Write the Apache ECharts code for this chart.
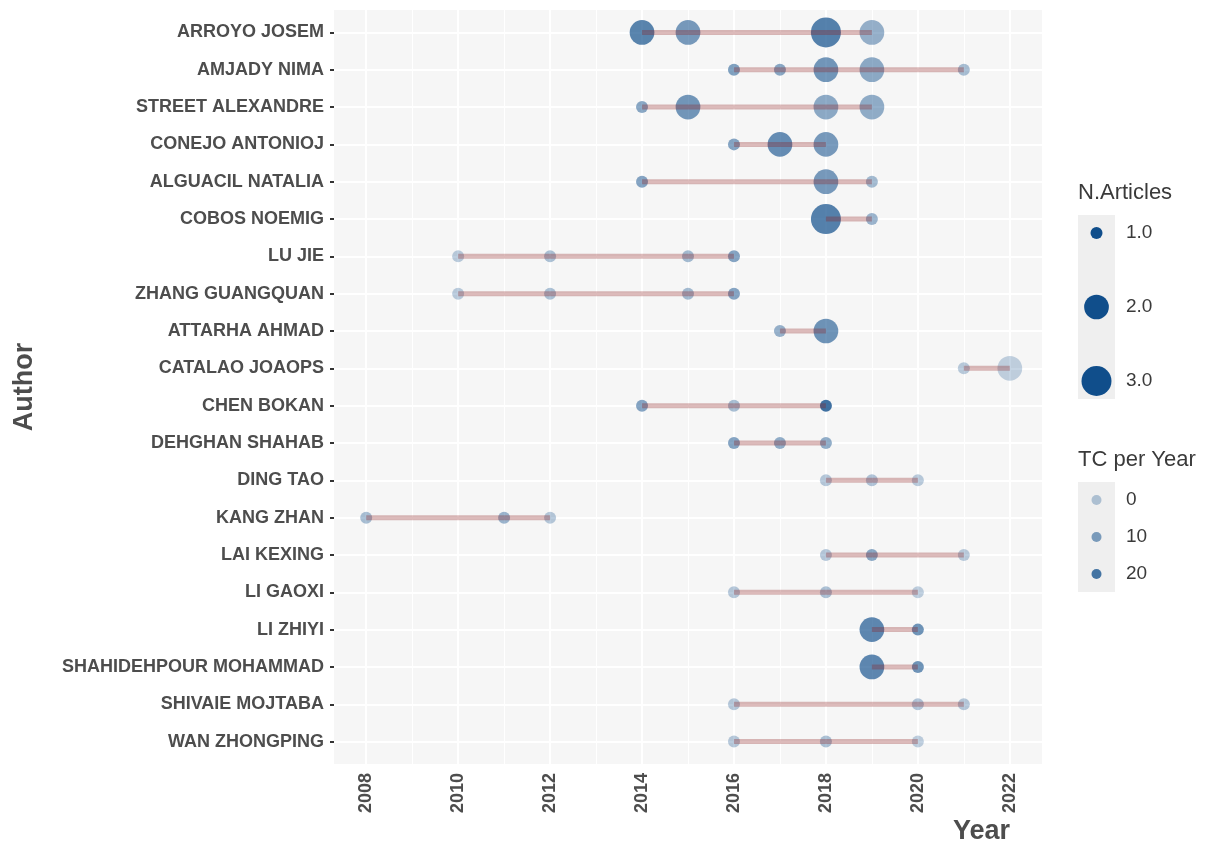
<!DOCTYPE html>
<html>
<head>
<meta charset="utf-8">
<script src="https://cdn.jsdelivr.net/npm/echarts@6/dist/echarts.min.js"></script>
<style>
html,body{margin:0;padding:0;background:#fff;}
#chart{width:1212px;height:848px;}
</style>
</head>
<body>
<div id="chart"></div>
<script>
// ---- data ----
const authors = ["ARROYO JOSEM","AMJADY NIMA","STREET ALEXANDRE","CONEJO ANTONIOJ","ALGUACIL NATALIA","COBOS NOEMIG","LU JIE","ZHANG GUANGQUAN","ATTARHA AHMAD","CATALAO JOAOPS","CHEN BOKAN","DEHGHAN SHAHAB","DING TAO","KANG ZHAN","LAI KEXING","LI GAOXI","LI ZHIYI","SHAHIDEHPOUR MOHAMMAD","SHIVAIE MOJTABA","WAN ZHONGPING"];
const years = [
  [2014,2015,2018,2019],
  [2016,2017,2018,2019,2021],
  [2014,2015,2018,2019],
  [2016,2017,2018],
  [2014,2018,2019],
  [2018,2019],
  [2010,2012,2015,2016],
  [2010,2012,2015,2016],
  [2017,2018],
  [2021,2022],
  [2014,2016,2018],
  [2016,2017,2018],
  [2018,2019,2020],
  [2008,2011,2012],
  [2018,2019,2021],
  [2016,2018,2020],
  [2019,2020],
  [2019,2020],
  [2016,2020,2021],
  [2016,2018,2020]
];
const articles = [
  [2,2,3,2],
  [1,1,2,2,1],
  [1,2,2,2],
  [1,2,2],
  [1,2,1],
  [3,1],
  [1,1,1,1],
  [1,1,1,1],
  [1,2],
  [1,2],
  [1,1,1],
  [1,1,1],
  [1,1,1],
  [1,1,1],
  [1,1,1],
  [1,1,1],
  [2,1],
  [2,1],
  [1,1,1],
  [1,1,1]
];
const tcPerYear = [
  [24,17,25,10],
  [15,13,18,12,6],
  [13,18,12,11],
  [14,21,17],
  [14,17,7],
  [25,9],
  [2,5,7,14],
  [2,5,7,14],
  [10,19],
  [2,0],
  [14,6,30],
  [14,11,11],
  [3,4,2],
  [6,9,3],
  [3,13,2],
  [3,5,1],
  [23,19],
  [23,19],
  [3,4,3],
  [3,5,1]
];
const xTickLabels = [2008,2010,2012,2014,2016,2018,2020,2022];
const xMinorTicks = [2009,2011,2013,2015,2017,2019,2021];
const sizeLegendValues = [1,2,3];
const tcLegendValues = [0,10,20];

// ---- scales / styles ----
const FONT = '"Liberation Sans", Arial, sans-serif';
const BLUE = [16,78,139];
const allTc = tcPerYear.flat();
const tcMin = Math.min(...allTc), tcMax = Math.max(...allTc);
const allArt = articles.flat();
const artMin = Math.min(...allArt), artMax = Math.max(...allArt);
function alphaOf(tc){ return 0.3 + 0.7*(tc - tcMin)/(tcMax - tcMin); }
function colorOf(tc){ return 'rgba(' + BLUE.join(',') + ',' + alphaOf(tc).toFixed(3) + ')'; }
function sizeOf(n){ return 12 + 18*Math.sqrt((n - artMin)/(artMax - artMin)); }

const points = [];
authors.forEach((a,i)=>{
  years[i].forEach((y,j)=>{ points.push([y, i, articles[i][j], tcPerYear[i][j]]); });
});
const segs = authors.map((a,i)=>[Math.min(...years[i]), Math.max(...years[i]), i]);

const gridLines = [];
xTickLabels.forEach(v=>gridLines.push({xAxis:v, lineStyle:{color:'#ffffff', width:2, type:'solid'}}));
xMinorTicks.forEach(v=>gridLines.push({xAxis:v, lineStyle:{color:'#ffffff', width:1, type:'solid'}}));
authors.forEach((a,i)=>gridLines.push({yAxis:i, lineStyle:{color:'#ffffff', width:2, type:'solid'}}));

// ---- legend graphics ----
const LX = 1078, KEYW = 37, KCX = LX + 18.5, LABX = 1126;
const legendEls = [];
legendEls.push({type:'text', left:LX, top:182, style:{text:'N.Articles', font:'22px '+FONT, fill:'#3a3a3a'}});
legendEls.push({type:'rect', shape:{x:LX, y:215, width:KEYW, height:184}, style:{fill:'#efefef'}});
const sizeY = [233,307,381];
sizeLegendValues.forEach((v,k)=>{
  legendEls.push({type:'circle', shape:{cx:KCX, cy:sizeY[k], r:sizeOf(v)/2}, style:{fill:'rgb('+BLUE.join(',')+')'}});
  legendEls.push({type:'text', x:LABX, y:sizeY[k], style:{text:v.toFixed(1), font:'19px '+FONT, fill:'#3a3a3a', textVerticalAlign:'middle'}});
});
legendEls.push({type:'text', left:LX, top:449, style:{text:'TC per Year', font:'22px '+FONT, fill:'#3a3a3a'}});
legendEls.push({type:'rect', shape:{x:LX, y:482, width:KEYW, height:110}, style:{fill:'#efefef'}});
const tcY = [500,537,574];
tcLegendValues.forEach((v,k)=>{
  legendEls.push({type:'circle', shape:{cx:KCX, cy:tcY[k], r:5}, style:{fill:colorOf(v)}});
  legendEls.push({type:'text', x:LABX, y:tcY[k], style:{text:String(v), font:'19px '+FONT, fill:'#3a3a3a', textVerticalAlign:'middle'}});
});
// x axis title
legendEls.push({type:'text', x:1010, y:818, style:{text:'Year', font:'bold 27px '+FONT, fill:'#4d4d4d', textAlign:'right', textVerticalAlign:'top'}});

const chart = echarts.init(document.getElementById('chart'), null, {renderer:'canvas'});
chart.setOption({
  animation:false,
  backgroundColor:'#ffffff',
  textStyle:{fontFamily:FONT},
  grid:{left:334, right:170, top:10, bottom:84, show:true, backgroundColor:'#f6f6f6', borderWidth:0, containLabel:false},
  xAxis:{
    type:'value', min:2007.3, max:2022.7,
    axisLine:{show:false},
    axisTick:{show:true, length:4, lineStyle:{color:'#333333', width:2}, customValues:xTickLabels},
    axisLabel:{rotate:90, margin:9, fontSize:18, fontWeight:'bold', color:'#4d4d4d', fontFamily:FONT, customValues:xTickLabels, formatter:v=>String(v)},
    splitLine:{show:false}
  },
  yAxis:{
    type:'value', min:-0.6, max:19.6, inverse:true,
    name:'Author', nameLocation:'middle', nameRotate:90, nameGap:296, nameMoveOverlap:false,
    nameTextStyle:{fontSize:27, fontWeight:'bold', color:'#4d4d4d', fontFamily:FONT},
    axisLine:{show:false},
    axisTick:{show:true, length:4, lineStyle:{color:'#333333', width:2}, customValues:authors.map((a,i)=>i)},
    axisLabel:{margin:10, fontSize:18, fontWeight:'bold', color:'#4d4d4d', fontFamily:FONT, customValues:authors.map((a,i)=>i), formatter:v=>authors[Math.round(v)] || ''},
    splitLine:{show:false}
  },
  graphic:legendEls,
  series:[
    {
      type:'scatter', data:[], z:1, silent:true,
      markLine:{silent:true, z:1, symbol:['none','none'], label:{show:false}, animation:false, data:gridLines}
    },
    {
      type:'scatter', z:3, data:points,
      symbolSize:d=>sizeOf(d[2]),
      itemStyle:{color:p=>colorOf(p.data[3]), borderWidth:0}
    },
    {
      type:'custom', z:4, data:segs,
      encode:{x:[0,1], y:2},
      renderItem:(params, api)=>{
        const p1 = api.coord([api.value(0), api.value(2)]);
        const p2 = api.coord([api.value(1), api.value(2)]);
        return {type:'line', shape:{x1:p1[0], y1:p1[1], x2:p2[0], y2:p2[1]}, style:{stroke:'rgba(139,26,26,0.3)', lineWidth:5}};
      }
    }
  ]
});
</script>
</body>
</html>
